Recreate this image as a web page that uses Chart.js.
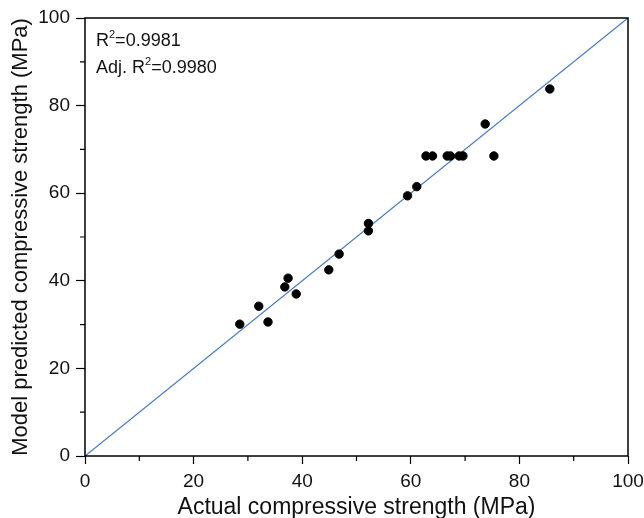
<!DOCTYPE html>
<html>
<head>
<meta charset="utf-8">
<script src="https://cdn.jsdelivr.net/npm/chart.js@4.4.1/dist/chart.umd.min.js"></script>
<style>
  html, body { margin: 0; padding: 0; background: #fff; }
  #wrap { width: 644px; height: 518px; }
</style>
</head>
<body>
<div id="wrap"><canvas id="fitChart"></canvas></div>
<script>
// actual vs predicted compressive strength (MPa)
const actual = [28.5, 32.0, 33.7, 36.8, 37.4, 38.9, 44.9, 46.8, 52.2, 52.2, 59.4, 61.1,
  62.8, 64.0, 66.7, 67.3, 68.9, 69.6, 75.3, 73.7, 85.6];
const predicted = [30.1, 34.2, 30.6, 38.6, 40.6, 37.0, 42.5, 46.1, 53.1, 51.4, 59.4, 61.5,
  68.5, 68.5, 68.5, 68.5, 68.5, 68.5, 68.5, 75.8, 83.8];
const fitLine = [0, 100];
const statLabels = ['R', '=0.9981', 'Adj. R', '=0.9980'];

const FONT = "'Liberation Sans', Arial, sans-serif";

// box around plot, minor ticks, R^2 text
const framePlugin = {
  id: 'frame',
  afterDraw(chart) {
    const { ctx, chartArea: a, scales } = chart;
    ctx.save();
    ctx.strokeStyle = '#000';
    ctx.lineWidth = 1.5;
    ctx.strokeRect(a.left, a.top, a.right - a.left, a.bottom - a.top);

    ctx.lineWidth = 1.2;
    ctx.beginPath();
    for (let v = 10; v < 100; v += 20) {
      const px = scales.x.getPixelForValue(v);
      ctx.moveTo(px, a.bottom);
      ctx.lineTo(px, a.bottom + 5);
      const py = scales.y.getPixelForValue(v);
      ctx.moveTo(a.left, py);
      ctx.lineTo(a.left - 5, py);
    }
    ctx.stroke();

    ctx.fillStyle = '#111';
    ctx.textBaseline = 'alphabetic';
    ctx.textAlign = 'left';
    const drawStat = (x, y, pre, post) => {
      ctx.font = '18px ' + FONT;
      ctx.fillText(pre, x, y);
      let w = ctx.measureText(pre).width;
      ctx.font = '11px ' + FONT;
      ctx.fillText('2', x + w, y - 8);
      w += ctx.measureText('2').width;
      ctx.font = '18px ' + FONT;
      ctx.fillText(post, x + w, y);
    };
    drawStat(a.left + 11, a.top + 28, statLabels[0], statLabels[1]);
    drawStat(a.left + 11, a.top + 55, statLabels[2], statLabels[3]);
    ctx.restore();
  }
};

const ctx = document.getElementById('fitChart').getContext('2d');
new Chart(ctx, {
  type: 'scatter',
  data: {
    datasets: [
      {
        type: 'line',
        data: fitLine.map(v => ({ x: v, y: v })),
        borderColor: '#4a7ebb',
        borderWidth: 1.3,
        pointRadius: 0,
        fill: false,
        order: 2,
      },
      {
        data: actual.map((v, i) => ({ x: v, y: predicted[i] })),
        backgroundColor: '#000',
        borderColor: '#000',
        pointRadius: 4.2,
        order: 1,
      },
    ],
  },
  options: {
    responsive: true,
    maintainAspectRatio: false,
    animation: false,
    layout: { padding: { top: 18, right: 16, left: 0, bottom: 0 } },
    plugins: { legend: { display: false }, tooltip: { enabled: false } },
    scales: {
      x: {
        type: 'linear', min: 0, max: 100,
        afterFit(scale) {
          scale.height = 62;
          scale.paddingLeft = 0;
          scale.paddingRight = 0;
        },
        grid: { drawOnChartArea: false, tickLength: 8, tickColor: '#000', tickWidth: 1.2 },
        border: { display: false },
        ticks: { stepSize: 20, color: '#111', font: { family: FONT, size: 19 }, padding: 6 },
        title: { display: true, text: 'Actual compressive strength (MPa)', color: '#111',
          font: { family: FONT, size: 23 }, padding: { top: 0, bottom: -3 } },
      },
      y: {
        type: 'linear', min: 0, max: 100,
        afterFit(scale) {
          scale.width = 85;
          scale.paddingTop = 0;
          scale.paddingBottom = 0;
        },
        grid: { drawOnChartArea: false, tickLength: 9, tickColor: '#000', tickWidth: 1.2 },
        border: { display: false },
        ticks: { stepSize: 20, color: '#111', font: { family: FONT, size: 19 }, padding: 6 },
        title: { display: true, text: 'Model predicted compressive strength (MPa)', color: '#111',
          font: { family: FONT, size: 22 }, padding: { top: 8 } },
      },
    },
  },
  plugins: [framePlugin],
});
</script>
</body>
</html>
